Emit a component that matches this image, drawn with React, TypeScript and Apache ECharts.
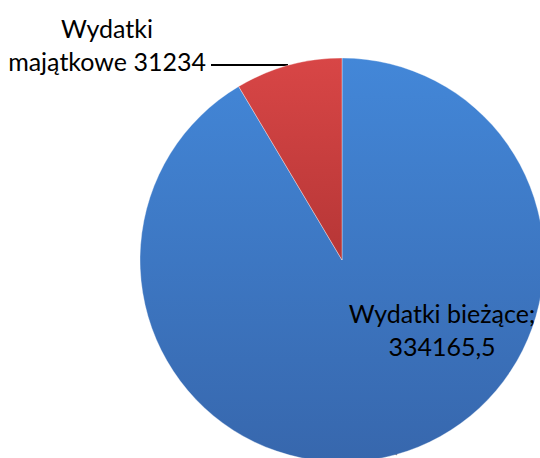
import React, { useEffect, useRef } from "react";
import * as echarts from "echarts";

const categories = ["Wydatki bieżące", "Wydatki majątkowe"];
const values = [334165.5, 31234];
const labelTexts = ["Wydatki bieżące;\n334165,5", "Wydatki\nmajątkowe 31234"];

const colorsTop = ["#4387d8", "#d84646"];
const colorsBottom = ["#3767ad", "#b63636"];

export default function App() {
  const ref = useRef<HTMLDivElement>(null);
  useEffect(() => {
    if (!ref.current) return;
    const chart = echarts.init(ref.current, undefined, { renderer: "svg" });
    const data = categories.map((name, i) => ({
      name,
      value: values[i],
      itemStyle: {
        color: new echarts.graphic.LinearGradient(0, 0, 0, 1, [
          { offset: 0, color: colorsTop[i] },
          { offset: 1, color: colorsBottom[i] },
        ]),
      },
      label: { formatter: labelTexts[i] },
    }));
    chart.setOption({
      animation: false,
      backgroundColor: "#ffffff",
      series: [
        {
          type: "pie",
          center: [342, 260],
          radius: 202,
          startAngle: 90,
          clockwise: true,
          data,
          itemStyle: { borderColor: "rgba(255,255,255,0.35)", borderWidth: 1 },
          label: {
            show: true,
            color: "#000000",
            fontFamily: "Lato, 'Noto Sans', sans-serif",
            fontSize: 25,
            lineHeight: 33,
            align: "center",
            overflow: "none",
            width: 300,
          },
          labelLine: { show: true, lineStyle: { color: "#000000", width: 2 }, smooth: false },
          labelLayout: (params: any) => {
            if (params.dataIndex === 0) {
              return { x: 442, y: 329, align: "center", verticalAlign: "middle" };
            }
            return {
              x: 107,
              y: 44,
              align: "center",
              verticalAlign: "middle",
              labelLinePoints: [
                [288, 65],
                [250, 65],
                [211, 65],
              ],
            };
          },
        },
      ],
    });
    return () => chart.dispose();
  }, []);
  return (
    <div
      ref={ref}
      style={{ position: "absolute", left: 0, top: 0, width: 540, height: 458 }}
    />
  );
}
